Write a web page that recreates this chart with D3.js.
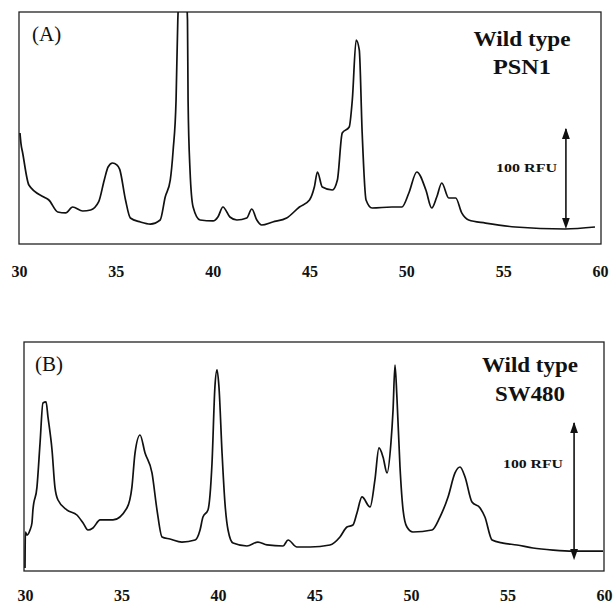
<!DOCTYPE html>
<html><head><meta charset="utf-8">
<script src="https://cdn.jsdelivr.net/npm/d3@7"></script>
<style>body{margin:0;background:#fff}</style>
</head><body><svg id="c" width="615" height="603"></svg>
<script>
// ---- data (retention time in min, signal in RFU) ----
const tickValues = [30, 35, 40, 45, 50, 55, 60];

const timeA = [30.05,30.10,30.19,30.51,31.28,31.54,32.00,32.41,32.77,33.29,33.70,34.11,34.40,34.60,34.83,35.05,35.20,35.50,35.75,36.27,36.78,37.29,37.55,37.81,37.96,38.11,38.20,38.45,38.70,38.73,38.83,38.99,39.35,40.02,40.27,40.53,40.89,41.25,41.76,42.02,42.28,42.53,43.10,43.82,44.48,45.00,45.25,45.41,45.66,46.18,46.44,46.69,47.05,47.21,47.41,47.57,47.72,47.92,48.23,49.26,49.77,50.13,50.54,51.01,51.31,51.57,51.83,52.19,52.55,52.86,53.22,54.09,55.63,58.20,59.74];
const rfuA  = [124.4,113,102.2,66.7,53.3,50,36.7,35.6,42.2,37.8,38.9,47.8,72,86.7,91.1,89,84,50,30,25.6,23.3,27.8,53.3,72.2,105.6,161.1,250,330,250,161.1,83.3,42.2,27.8,26.7,31.1,42.2,31.1,27.8,30,40,27.8,22.2,25.6,30,42.2,50,64.4,81.1,64.4,61.1,72.2,124.4,131.1,161.1,227.8,216.7,124.4,50,41.1,42.2,42.2,57.8,81.1,61.1,41.1,53.3,68.9,52.2,52.2,35.6,27.8,24.4,20,17.8,20];

const timeB = [30.00,30.02,30.10,30.26,30.36,30.41,30.62,30.78,30.93,31.09,31.19,31.40,31.55,31.71,32.18,32.69,33.01,33.26,33.52,33.89,34.56,35.28,35.54,35.70,35.96,36.22,36.58,36.84,37.10,37.51,38.13,38.81,39.07,39.22,39.48,39.69,39.84,39.95,40.05,40.21,40.36,40.52,40.78,41.50,42.07,42.54,43.37,43.63,44.09,44.77,45.80,46.32,46.68,46.99,47.20,47.46,47.88,48.13,48.34,48.55,48.76,48.96,49.07,49.17,49.27,49.43,49.59,49.79,50.10,51.09,51.50,51.92,52.28,52.54,52.80,53.16,53.58,53.83,54.20,54.77,55.49,56.32,57.36,58.39,59.95];
const rfuB  = [2.4,30.7,28.3,32.3,37.8,48.0,66.1,100.8,132.3,133.1,121.3,95.3,66.1,55.9,48.0,44.1,37.8,32.3,33.9,40.2,40.2,49.6,66.1,92.9,107.1,92.9,77.2,48.0,26.8,25.2,22.8,24.4,32.3,42.5,48.0,85.0,144.9,158.3,144.9,92.9,53.5,32.3,22.0,19.7,22.8,20.5,19.7,24.4,18.9,18.9,20.5,26.8,34.6,36.2,45.7,58.3,50.4,71.7,96.9,89.8,77.2,100.8,126.8,162.2,137.0,81.9,48.0,34.6,30.7,32.3,42.5,58.3,77.2,81.9,74.0,54.3,49.6,42.5,24.4,22.0,20.5,18.1,16.5,15.7,15.7];

const panelLabels = ["(A)", "(B)"];
const sampleLine1 = ["Wild type", "Wild type"];
const sampleLine2 = ["PSN1", "SW480"];
const scaleBarText = "100 RFU";
const scaleBarTime = [58.24, 58.45];
const scaleBarFrom = [29, 16.5];
const scaleBarTo   = [129, 116.5];

// ---- layout ----
const layout = [
  {box:{x0:19,x1:601,y0:12,y1:244}, xr:[19,600], yr:[245,155], tickY:277,
   lab:{x:32,y:41}, t1:{x:522,y:46,w:97}, t2:{x:522,y:74,w:58}, rfu:{x:557,y:172,w:61}},
  {box:{x0:24,x1:604,y0:342,y1:571}, xr:[25,604], yr:[571,444], tickY:601,
   lab:{x:35,y:371}, t1:{x:530,y:372,w:96}, t2:{x:530,y:401,w:70}, rfu:{x:563,y:468,w:60}}
];
const series = [[timeA, rfuA], [timeB, rfuB]];

const svg = d3.select("#c");
const defs = svg.append("defs");
["s","e"].forEach(k=>{
  defs.append("marker").attr("id","arr"+k).attr("viewBox","0 0 10 10")
    .attr("refX",k==="e"?9:1).attr("refY",5).attr("markerWidth",7).attr("markerHeight",7)
    .attr("orient","auto-start-reverse")
    .append("path").attr("d","M0,1.5 L10,5 L0,8.5 Z").attr("fill","#111");
});

layout.forEach((L,i)=>{
  const x = d3.scaleLinear().domain([30,60]).range(L.xr);
  const y = d3.scaleLinear().domain([0,100]).range(L.yr);
  const g = svg.append("g");
  const b = L.box;
  defs.append("clipPath").attr("id","clip"+i).append("rect")
    .attr("x",b.x0).attr("y",b.y0).attr("width",b.x1-b.x0).attr("height",b.y1-b.y0);
  g.append("rect").attr("x",b.x0).attr("y",b.y0).attr("width",b.x1-b.x0).attr("height",b.y1-b.y0)
    .attr("fill","none").attr("stroke","#222").attr("stroke-width",1.3);

  const [ts, vs] = series[i];
  const pts = ts.map((t,j)=>[t, vs[j]]);
  const line = d3.line().curve(d3.curveMonotoneX).x(d=>x(d[0])).y(d=>y(d[1]));
  g.append("path").datum(pts).attr("d",line).attr("clip-path",`url(#clip${i})`)
    .attr("fill","none").attr("stroke","#111").attr("stroke-width",1.7).attr("stroke-linejoin","round");

  const ax = g.append("g").attr("transform",`translate(0,${L.tickY})`)
    .call(d3.axisBottom(x).tickValues(tickValues).tickSize(0).tickPadding(0));
  ax.select(".domain").remove();
  ax.selectAll("text").attr("dy",0).attr("fill","#111")
    .style("font-family","'Liberation Serif', serif").style("font-weight","bold").style("font-size","16px");

  g.append("text").attr("x",L.lab.x).attr("y",L.lab.y).text(panelLabels[i])
    .style("font-family","'Liberation Serif', serif").style("font-size","21px").attr("fill","#111");
  g.append("text").attr("x",L.t1.x).attr("y",L.t1.y).attr("text-anchor","middle").text(sampleLine1[i])
    .attr("textLength",L.t1.w).attr("lengthAdjust","spacingAndGlyphs")
    .style("font-family","'Liberation Serif', serif").style("font-weight","bold").style("font-size","21px").attr("fill","#111");
  g.append("text").attr("x",L.t2.x).attr("y",L.t2.y).attr("text-anchor","middle").text(sampleLine2[i])
    .attr("textLength",L.t2.w).attr("lengthAdjust","spacingAndGlyphs")
    .style("font-family","'Liberation Serif', serif").style("font-weight","bold").style("font-size","21px").attr("fill","#111");
  g.append("text").attr("x",L.rfu.x).attr("y",L.rfu.y).attr("text-anchor","end").text(scaleBarText)
    .attr("textLength",L.rfu.w).attr("lengthAdjust","spacingAndGlyphs")
    .style("font-family","'Liberation Serif', serif").style("font-weight","bold").style("font-size","13px").attr("fill","#111");

  g.append("line").attr("x1",x(scaleBarTime[i])).attr("x2",x(scaleBarTime[i]))
    .attr("y1",y(scaleBarFrom[i])).attr("y2",y(scaleBarTo[i]))
    .attr("stroke","#111").attr("stroke-width",1.6)
    .attr("marker-start","url(#arrs)").attr("marker-end","url(#arre)");
});
</script></body></html>
